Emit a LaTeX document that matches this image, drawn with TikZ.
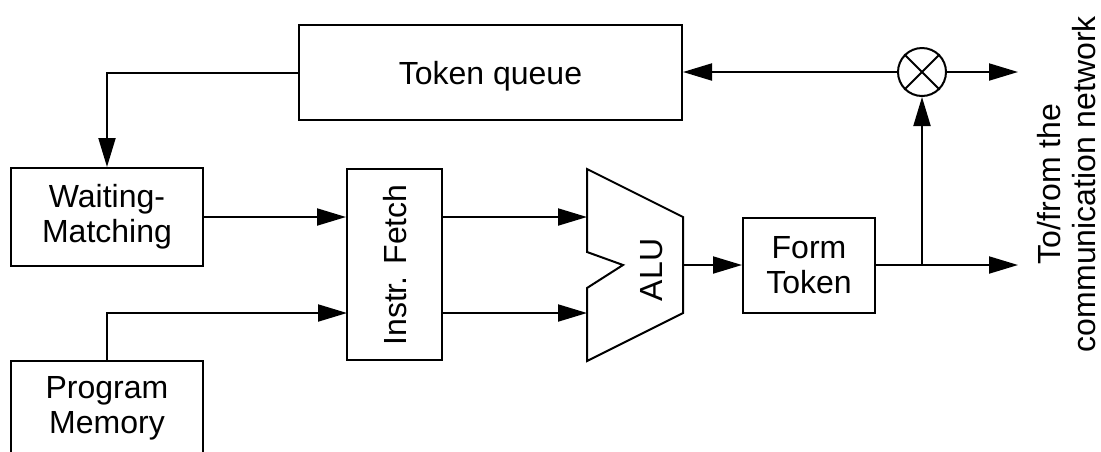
\documentclass[tikz,border=0pt]{standalone}
\usepackage{fontspec}
\setmainfont{Liberation Sans}
\usetikzlibrary{arrows.meta}
\tikzset{
  blk/.style={draw, line width=2pt, inner sep=0pt, align=center, font=\fontsize{32}{35}\selectfont},
  txt/.style={inner sep=0pt, align=center, font=\fontsize{32}{35}\selectfont},
  conn/.style={line width=2pt},
  arr/.style={line width=2pt, -{Triangle[length=29pt,width=17pt]}},
}
\begin{document}
\begin{tikzpicture}[x=1pt,y=-1pt]
\useasboundingbox (0,0) rectangle (1101,451);
\node[blk, minimum width=383pt, minimum height=95pt, text depth=0pt] (tq) at (490.5,72.5) {Token queue};
\node[blk, minimum width=192pt, minimum height=98pt] (wm) at (107,217) {Waiting-\\Matching};
\node[blk, minimum width=192pt, minimum height=94pt] (pm) at (107,408) {Program\\Memory};
\node[blk, minimum width=95pt, minimum height=191pt] (if) at (394.5,264.5) {};
\node[txt, rotate=90] (iftxt) at (395,265) {Instr. Fetch};
\node[blk, minimum width=132pt, minimum height=95pt] (ft) at (809,265) {Form\\Token};
\node[draw, circle, line width=2pt, minimum size=48pt, inner sep=0pt] (mx) at (922,72) {};
\draw[conn] (mx.north west) -- (mx.south east) (mx.north east) -- (mx.south west);
% ALU
\coordinate (a1) at (587,169);
\coordinate (a2) at (683,217);
\coordinate (a3) at (683,313);
\coordinate (a4) at (587,361);
\coordinate (a5) at (587,288);
\coordinate (a6) at (623,265);
\coordinate (a7) at (587,252);
\coordinate (aout) at (683,265);
\draw[conn, line join=miter] (a1) -- (a2) -- (a3) -- (a4) -- (a5) -- (a6) -- (a7) -- cycle;
\node[txt, rotate=90] (alu) at (652,270) {ALU};
% connectors
\draw[arr] (tq.west |- 0,73) -| (wm.north);
\draw[arr] (wm.east) -- (wm.east -| if.west);
\coordinate (ifin2) at (347,313);
\draw[arr] (pm.north) |- (ifin2);
\coordinate (aluin1) at (587,217);
\coordinate (aluin2) at (587,313);
\draw[arr] (if.east |- aluin1) -- (aluin1);
\draw[arr] (if.east |- aluin2) -- (aluin2);
\draw[arr] (aout) -- (ft.west);
\coordinate (br) at (922,265);
\coordinate (out2) at (1018,265);
\coordinate (out1) at (1018,72);
\draw[conn] (ft.east) -- (br);
\draw[arr] (br) -- (out2);
\draw[arr] (br) -- (mx.south);
\draw[arr] (mx.west) -- (mx.west -| tq.east);
\draw[arr] (mx.east) -- (out1);
\node[txt, rotate=90] (net) at (1067,184) {To/from the\\communication network};
\end{tikzpicture}
\end{document}
